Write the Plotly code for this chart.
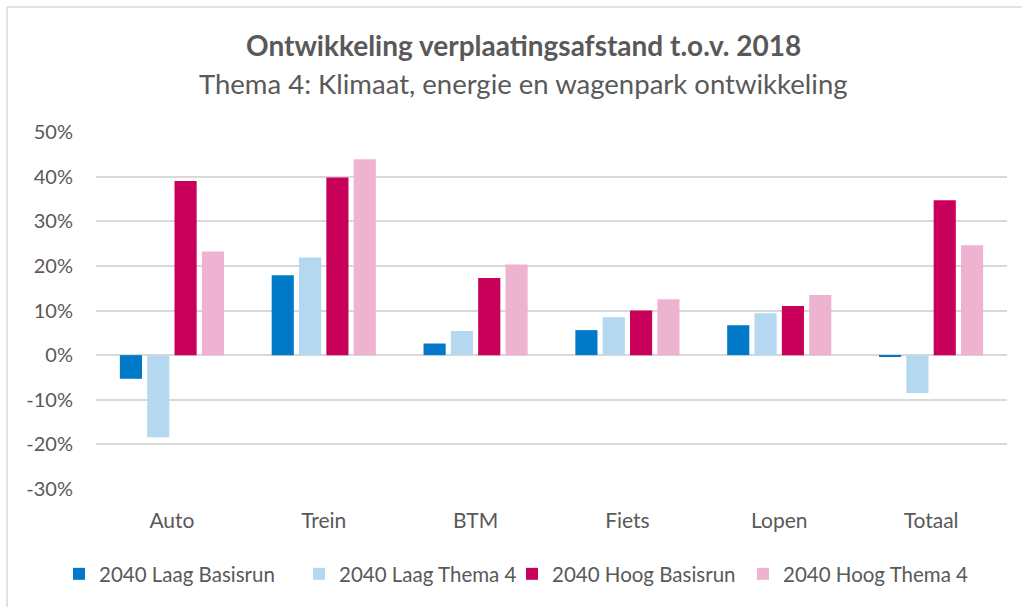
import plotly.graph_objects as go

categories = ["Auto", "Trein", "BTM", "Fiets", "Lopen", "Totaal"]
laag_basisrun = [-5.3, 17.9, 2.6, 5.6, 6.7, -0.3]
laag_thema4 = [-18.4, 21.9, 5.4, 8.5, 9.4, -8.5]
hoog_basisrun = [39.0, 39.8, 17.3, 10.0, 11.0, 34.7]
hoog_thema4 = [23.2, 43.9, 20.3, 12.5, 13.5, 24.6]
series_names = ["2040 Laag Basisrun", "2040 Laag Thema 4", "2040 Hoog Basisrun", "2040 Hoog Thema 4"]
series_values = [laag_basisrun, laag_thema4, hoog_basisrun, hoog_thema4]
colors = ["#0079C8", "#B4D8F0", "#C8005A", "#EEB3D0"]
tick_vals = [-30, -20, -10, 0, 10, 20, 30, 40, 50]
tick_text = [f"{v}%" for v in tick_vals]

FONT = "Lato"
TXT = "#595959"

W, H = 1022, 607
ml, mr, mt, mb = 96, 15, 132, 118
pw, ph = W - ml - mr, H - mt - mb

def px(x):
    return (x - ml) / pw

def py(y):
    return (H - mb - y) / ph

legend_ids = ["legend", "legend2", "legend3", "legend4"]
legend_left_px = [59, 299, 512, 743]

fig = go.Figure()
for name, vals, col, lid in zip(series_names, series_values, colors, legend_ids):
    fig.add_trace(go.Bar(
        x=categories, y=vals, name=name, legend=lid,
        marker=dict(color=col, line=dict(width=0)),
    ))

legend_layouts = {}
for lid, lx in zip(legend_ids, legend_left_px):
    legend_layouts[lid] = dict(orientation="h", xref="paper", x=px(lx), xanchor="left",
                               y=py(574), yanchor="middle", bgcolor="rgba(0,0,0,0)",
                               font=dict(size=20.5, color=TXT, family=FONT))

fig.update_layout(
    width=W, height=H,
    margin=dict(l=ml, r=mr, t=mt, b=mb, autoexpand=False),
    paper_bgcolor="white", plot_bgcolor="white",
    barmode="group", bargap=0.28, bargroupgap=0.19,
    font=dict(family=FONT, color=TXT, size=20),
    showlegend=True,
    xaxis=dict(showgrid=False, showline=False, ticks="", automargin=False,
               tickfont=dict(size=21, color=TXT), ticklabelstandoff=17),
    yaxis=dict(range=[-30, 50], tickvals=tick_vals, ticktext=tick_text, automargin=False,
               showgrid=True, gridcolor="#D9D9D9", gridwidth=1.5,
               zeroline=True, zerolinecolor="#D9D9D9", zerolinewidth=1.5,
               showline=False, ticks="", tickfont=dict(size=20, color=TXT), ticklabelstandoff=22),
    annotations=[
        dict(text="<b>Ontwikkeling verplaatingsafstand t.o.v. 2018</b>", x=px(523), xref="paper",
             y=py(45), yref="paper", xanchor="center", yanchor="middle", showarrow=False,
             font=dict(size=28, color=TXT, family=FONT)),
        dict(text="Thema 4: Klimaat, energie en wagenpark ontwikkeling", x=px(523), xref="paper",
             y=py(83), yref="paper", xanchor="center", yanchor="middle", showarrow=False,
             font=dict(size=27.5, color=TXT, family=FONT)),
    ],
    shapes=[
        dict(type="line", xref="paper", yref="paper", x0=px(7), x1=px(1030), y0=py(7), y1=py(7),
             line=dict(color="#D9D9D9", width=1.5)),
        dict(type="line", xref="paper", yref="paper", x0=px(7), x1=px(7), y0=py(7), y1=py(620),
             line=dict(color="#D9D9D9", width=1.5)),
    ],
    **legend_layouts,
)

fig.write_html("out.html", config={"displayModeBar": False},
               post_script="document.body.style.margin='0px';document.body.style.overflow='hidden';")
